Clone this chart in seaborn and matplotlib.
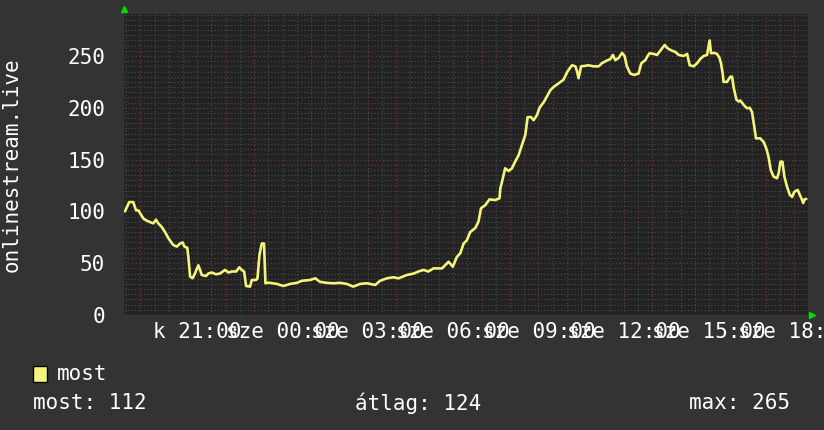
import matplotlib
matplotlib.use("Agg")
import matplotlib.pyplot as plt
import matplotlib.ticker as mticker
from matplotlib.patches import Rectangle
import seaborn as sns
import pandas as pd

# hours after 19:00 (kedd) and listener count
hours = [
    -0.54, -0.39, -0.25, -0.15, -0.07, 0.01, 0.11, 0.23, 0.40, 0.46, 0.55, 0.63,
    0.75, 0.87, 0.99, 1.07, 1.16, 1.28, 1.40, 1.49, 1.55, 1.65, 1.69, 1.75,
    1.84, 1.92, 2.04, 2.10, 2.16, 2.31, 2.39, 2.51, 2.66, 2.80, 2.98, 3.10,
    3.22, 3.37, 3.48, 3.57, 3.65, 3.72, 3.86, 3.92, 4.07, 4.12, 4.19, 4.27,
    4.35, 4.40, 4.50, 4.56, 4.80, 5.03, 5.27, 5.50, 5.68, 5.97, 6.15, 6.32,
    6.56, 6.79, 7.03, 7.26, 7.49, 7.73, 7.97, 8.26, 8.43, 8.67, 8.90, 9.08,
    9.37, 9.61, 9.78, 9.96, 10.13, 10.31, 10.61, 10.84, 10.99, 11.13, 11.25, 11.37,
    11.48, 11.60, 11.78, 11.89, 11.98, 12.13, 12.28, 12.48, 12.63, 12.66, 12.74, 12.83,
    12.95, 13.07, 13.18, 13.30, 13.42, 13.54, 13.62, 13.74, 13.83, 13.95, 14.04, 14.20,
    14.42, 14.53, 14.71, 14.88, 15.02, 15.18, 15.30, 15.36, 15.41, 15.50, 15.65, 15.76,
    15.94, 16.12, 16.23, 16.41, 16.53, 16.62, 16.70, 16.82, 16.94, 17.03, 17.11, 17.23,
    17.37, 17.52, 17.62, 17.76, 17.84, 17.91, 18.05, 18.17, 18.35, 18.44, 18.54, 18.70,
    18.81, 18.93, 19.11, 19.23, 19.32, 19.46, 19.58, 19.69, 19.81, 19.93, 20.02, 20.07,
    20.18, 20.28, 20.37, 20.42, 20.48, 20.51, 20.63, 20.75, 20.81, 20.87, 20.96, 21.04,
    21.10, 21.22, 21.28, 21.34, 21.43, 21.51, 21.59, 21.65, 21.80, 21.92, 22.01, 22.09,
    22.17, 22.27, 22.39, 22.45, 22.51, 22.58, 22.65, 22.74, 22.84, 22.92, 23.00, 23.12,
    23.19, 23.25, 23.31, 23.36, 23.42,
]
listeners = [
    100, 109, 109, 101, 101, 97.5, 93, 91, 89, 88.5, 92, 88.5,
    85, 80, 74, 71, 67.5, 66, 69, 70, 66, 65, 56, 37,
    35.5, 40, 48, 43.5, 38.6, 37.6, 40, 41, 39.3, 40, 43.5, 41,
    42, 42, 46, 43.5, 42, 28, 27.4, 33.8, 33.8, 35.4, 58, 69,
    69, 30.6, 31.2, 31, 30, 28, 30, 31, 33, 33.8, 35.4, 32,
    31, 30.6, 31, 30, 27.4, 30, 30.6, 29, 33, 35.4, 36.4, 35.4,
    38.6, 40, 42, 43.5, 42, 45, 45, 51.4, 46.6, 56, 59.5, 69,
    72, 80, 84, 90, 103, 106, 111.6, 111, 112.6, 122, 131, 141.6,
    139, 141.6, 148, 154, 164, 174, 191, 191, 188, 193, 200, 206,
    217, 220, 223.6, 227, 235, 241, 240, 235, 228.5, 240, 240.5, 241,
    240, 240, 243, 245.6, 247, 251, 246, 248, 253, 250, 240, 233,
    231.7, 233, 243, 246, 250, 252.6, 252, 251, 257.4, 260.6, 257.4, 255,
    254, 251, 250, 252, 241, 240, 243, 247, 250, 251, 265, 252.6,
    253, 252, 248, 243, 233, 225, 225, 230, 230, 219, 208, 206,
    207, 202.7, 201, 199.5, 200, 196, 182, 170.5, 170.5, 167, 161, 153,
    140, 133.5, 132, 137, 148, 148, 133.5, 124, 116, 114, 119, 120.7,
    116, 112.6, 108, 111.6, 112,
]

tick_hours = [2, 5, 8, 11, 14, 17, 20, 23]
tick_labels = ["k 21:00", "sze 00:00", "sze 03:00", "sze 06:00",
               "sze 09:00", "sze 12:00", "sze 15:00", "sze 18:00"]

y_label = "onlinestream.live"
series_name = "most"
stat_names = ["most", "átlag", "max"]
stat_values = [112, 124, 265]

BG = "#333333"
CANVAS = "#222222"
FG = "#ffffff"
LINE = "#f4f47c"
MAJOR = "#703838"
MINOR = "#4c4c4c"

sns.set_theme(style="dark", rc={
    "figure.facecolor": BG,
    "axes.facecolor": CANVAS,
    "axes.edgecolor": CANVAS,
    "text.color": FG,
    "xtick.color": FG,
    "ytick.color": FG,
})
plt.rcParams["font.family"] = ["DejaVu Sans Mono"]
plt.rcParams["font.size"] = 15

fig = plt.figure(figsize=(8.24, 4.30), dpi=100)
W, H = 824, 430
ax = fig.add_axes([124.4 / W, 115 / H, 683.6 / W, 301 / H])

df = pd.DataFrame({"h": hours, "v": listeners})
sns.lineplot(data=df, x="h", y="v", color=LINE, lw=1.9, ax=ax, zorder=3)

ax.set_xlim(-0.56, 23.48)
ax.set_ylim(0, 290.5)
ax.set_xlabel("")
ax.set_ylabel("")

label_map = dict(zip(tick_hours, tick_labels))


def fmt_hour(h, pos):
    k = int(round(h))
    if abs(h - k) > 1e-6:
        return ""
    return label_map.get(k, "")


ax.xaxis.set_major_locator(mticker.MultipleLocator(1))
ax.xaxis.set_minor_locator(mticker.MultipleLocator(0.5))
ax.xaxis.set_major_formatter(mticker.FuncFormatter(fmt_hour))
ax.yaxis.set_major_locator(mticker.MultipleLocator(50))
ax.yaxis.set_minor_locator(mticker.MultipleLocator(5))

ax.grid(which="minor", color=MINOR, ls=(0, (1, 2)), lw=0.8)
ax.grid(which="major", color=MAJOR, ls=(0, (1, 2)), lw=0.9)
ax.set_axisbelow(True)

ax.tick_params(which="both", direction="out", length=2, width=0.8)
ax.tick_params(which="minor", color=MINOR)
ax.tick_params(which="major", color=MAJOR)
ax.tick_params(axis="x", which="major", labelsize=15, labelcolor=FG, pad=3)
ax.tick_params(axis="y", which="major", labelsize=15, labelcolor=FG, pad=12)
for s in ax.spines.values():
    s.set_visible(False)

# rrdtool style green arrows
ax.plot([0], [1.016], marker="^", color="#00dd00", ms=5, transform=ax.transAxes, clip_on=False)
ax.plot([1.006], [0], marker=">", color="#00dd00", ms=5, transform=ax.transAxes, clip_on=False)

fig.text(12 / W, 1 - 164.5 / H, y_label, rotation=90, ha="center", va="center",
         color=FG, size=15)

# legend
fig.patches.append(Rectangle((33 / W, 1 - 382 / H), 14 / W, 16 / H,
                             transform=fig.transFigure, fc=LINE, ec="black", lw=1))
fig.text(57 / W, 1 - 374 / H, series_name, va="center", ha="left", color=FG, size=15)

stat_x = [(33, "left"), (355, "left"), (790, "right")]
for (x, ha), name, val in zip(stat_x, stat_names, stat_values):
    fig.text(x / W, 1 - 403 / H, f"{name}: {val}", va="center", ha=ha, color=FG, size=15)

fig.savefig("out.png", dpi=100, facecolor=BG)
